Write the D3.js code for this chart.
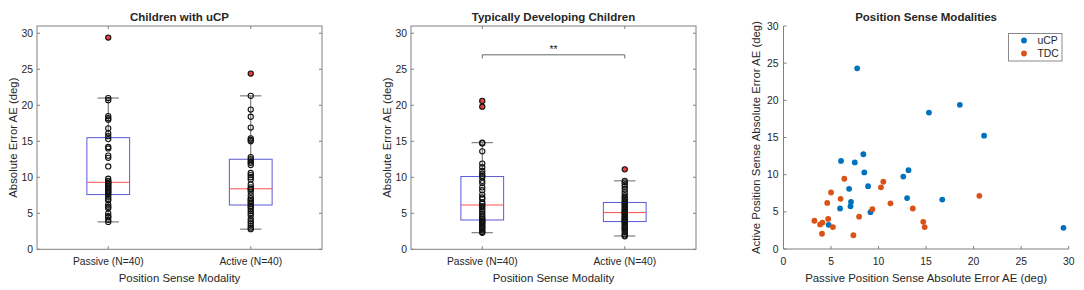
<!DOCTYPE html>
<html><head><meta charset="utf-8">
<script src="https://cdn.jsdelivr.net/npm/d3@7"></script>
<style>
html,body{margin:0;padding:0;background:#fff;}
svg text{font-family:"Liberation Sans",Arial,Helvetica,sans-serif;fill:#262626;}
</style></head>
<body><svg id="c" width="1084" height="290"></svg>
<script>
// ---- data ----
const categories = ["Passive (N=40)", "Active (N=40)"];
const boxYTicks = [0, 5, 10, 15, 20, 25, 30];
const scatterTicks = [0, 5, 10, 15, 20, 25, 30];

const ucpPassive = [29.4,21.0,20.7,18.5,18.2,18.0,16.8,16.1,15.7,15.3,14.2,14.0,13.0,12.7,11.5,9.8,9.5,9.4,9.2,9.1,9.0,8.8,8.6,8.5,8.3,8.1,8.0,7.8,7.6,7.3,7.0,6.8,6.2,5.9,5.7,5.0,4.6,4.5,4.1,3.8];
const ucpActive = [24.4,21.3,19.4,18.4,16.9,15.4,15.2,15.0,12.8,12.5,12.2,12.0,11.7,10.6,10.3,10.0,9.7,9.0,8.6,8.4,8.3,8.0,7.5,7.1,6.9,6.7,6.5,6.3,6.0,5.9,5.6,5.3,5.0,4.7,4.2,3.9,3.6,3.3,3.0,2.8];
const tdPassive = [20.6,19.8,14.8,14.7,13.6,11.9,11.4,10.9,10.5,10.2,10.0,9.5,9.2,8.6,8.2,7.6,7.2,7.0,6.5,6.3,6.0,5.8,5.5,5.2,4.9,4.6,4.4,4.2,4.0,3.9,3.8,3.6,3.5,3.3,3.1,3.0,2.8,2.6,2.4,2.3];
const tdActive = [11.1,9.5,9.3,9.0,8.7,8.3,7.9,7.5,7.2,7.0,6.7,6.5,6.3,6.1,5.9,5.7,5.5,5.3,5.2,5.1,5.0,4.9,4.7,4.5,4.4,4.2,4.1,4.0,3.9,3.8,3.6,3.4,3.2,3.0,2.9,2.7,2.4,2.1,1.9,1.8];

// box statistics: [lowWhisker, q1, median, q3, highWhisker]
const ucpPassiveStats = [3.8, 7.6, 9.3, 15.5, 21.0];
const ucpActiveStats  = [2.8, 6.15, 8.4, 12.5, 21.3];
const tdPassiveStats  = [2.3, 4.07, 6.15, 10.1, 14.8];
const tdActiveStats   = [1.85, 3.85, 5.1, 6.5, 9.5];
const ucpPassiveOutliers = [29.4];
const ucpActiveOutliers  = [24.4];
const tdPassiveOutliers  = [20.6, 19.8];
const tdActiveOutliers   = [11.1];

// scatter: passive (x) vs active (y)
const ucpScatterX = [7.75,15.3,18.55,21.1,6.05,7.5,8.4,8.5,13.15,12.6,8.9,6.9,7.1,7.05,5.95,13.0,16.7,9.15,4.75,29.45];
const ucpScatterY = [24.3,18.35,19.4,15.25,11.85,11.65,12.75,10.3,10.6,9.75,8.45,8.1,6.35,5.75,5.45,6.85,6.65,4.95,3.25,2.85];
const tdcScatterX = [6.4,10.5,10.25,5.0,6.0,4.6,11.25,20.6,13.6,9.35,7.95,3.25,4.7,3.85,4.1,5.2,14.7,14.85,4.05,7.35];
const tdcScatterY = [9.45,9.05,8.3,7.6,6.75,6.2,6.15,7.15,5.45,5.35,4.35,3.8,4.05,3.3,3.55,2.95,3.65,2.95,2.05,1.85];

const seriesNames = ["uCP", "TDC"];
const seriesColors = ["#0072BD", "#D95319"];

// ---- drawing ----
const svg = d3.select("#c");
const axisCol = "#808080";

function boxPanel(o) {
  const x = d3.scaleLinear().domain([0.5, 2.5]).range([o.left, o.right]);
  const y = d3.scaleLinear().domain([0, 31]).range([o.bottom, o.top]);
  const g = svg.append("g");
  g.append("rect").attr("x", o.left).attr("y", o.top).attr("width", o.right - o.left)
    .attr("height", o.bottom - o.top).attr("fill", "none").attr("stroke", axisCol).attr("stroke-width", 1);
  boxYTicks.forEach(t => {
    g.append("line").attr("x1", o.left).attr("x2", o.left + 3).attr("y1", y(t)).attr("y2", y(t)).attr("stroke", axisCol);
    g.append("line").attr("x1", o.right).attr("x2", o.right - 3).attr("y1", y(t)).attr("y2", y(t)).attr("stroke", axisCol);
    g.append("text").attr("x", o.left - 4).attr("y", y(t)).attr("dy", "0.35em").attr("text-anchor", "end")
      .style("font-size", "10.4px").text(t);
  });
  categories.forEach((c, i) => {
    const cx = x(i + 1);
    g.append("line").attr("x1", cx).attr("x2", cx).attr("y1", o.bottom).attr("y2", o.bottom - 3).attr("stroke", axisCol);
    g.append("line").attr("x1", cx).attr("x2", cx).attr("y1", o.top).attr("y2", o.top + 3).attr("stroke", axisCol);
    g.append("text").attr("x", cx).attr("y", 265).attr("text-anchor", "middle").style("font-size", "10.3px").text(c);
  });
  g.append("text").attr("x", (o.left + o.right) / 2).attr("y", 281.5).attr("text-anchor", "middle")
    .style("font-size", "11.4px").text("Position Sense Modality");
  g.append("text").attr("transform", `translate(${o.left - 20},${(o.top + o.bottom) / 2}) rotate(-90)`)
    .attr("text-anchor", "middle").style("font-size", "11.4px").text("Absolute Error AE (deg)");
  g.append("text").attr("x", (o.left + o.right) / 2).attr("y", 21).attr("text-anchor", "middle")
    .style("font-size", "11.5px").style("font-weight", "bold").text(o.title);

  const bw = 0.3 * (x(2) - x(1));
  o.groups.forEach((grp, i) => {
    const cx = x(i + 1);
    const s = grp.stats;
    g.append("line").attr("x1", cx).attr("x2", cx).attr("y1", y(s[3])).attr("y2", y(s[4])).attr("stroke", "#666");
    g.append("line").attr("x1", cx).attr("x2", cx).attr("y1", y(s[1])).attr("y2", y(s[0])).attr("stroke", "#666");
    [s[0], s[4]].forEach(v => g.append("line").attr("x1", cx - bw / 4).attr("x2", cx + bw / 4)
      .attr("y1", y(v)).attr("y2", y(v)).attr("stroke", "#666"));
    g.append("rect").attr("x", cx - bw / 2).attr("y", y(s[3])).attr("width", bw).attr("height", y(s[1]) - y(s[3]))
      .attr("fill", "none").attr("stroke", "#5a5ad6").attr("stroke-width", 1);
    g.append("line").attr("x1", cx - bw / 2).attr("x2", cx + bw / 2).attr("y1", y(s[2])).attr("y2", y(s[2]))
      .attr("stroke", "#ff5050").attr("stroke-width", 1);
    g.selectAll(null).data(grp.outliers).enter().append("circle")
      .attr("cx", cx).attr("cy", d => y(d)).attr("r", 2.6).attr("fill", "#ee3b3b");
    g.selectAll(null).data(grp.values).enter().append("circle")
      .attr("cx", cx).attr("cy", d => y(d)).attr("r", 2.6).attr("fill", "none")
      .attr("stroke", "#111").attr("stroke-width", 1.1);
  });
  return { g, x, y };
}

boxPanel({ left: 37, right: 322, top: 26, bottom: 249.3, title: "Children with uCP",
  groups: [{ values: ucpPassive, stats: ucpPassiveStats, outliers: ucpPassiveOutliers },
           { values: ucpActive, stats: ucpActiveStats, outliers: ucpActiveOutliers }] });

const p2 = boxPanel({ left: 411, right: 696, top: 26, bottom: 249.3, title: "Typically Developing Children",
  groups: [{ values: tdPassive, stats: tdPassiveStats, outliers: tdPassiveOutliers },
           { values: tdActive, stats: tdActiveStats, outliers: tdActiveOutliers }] });
const sigLevel = 27, sigDrop = 0.5;
p2.g.append("path").attr("d", `M${p2.x(1)},${p2.y(sigLevel - sigDrop)}V${p2.y(sigLevel)}H${p2.x(2)}V${p2.y(sigLevel - sigDrop)}`)
  .attr("fill", "none").attr("stroke", "#666").attr("stroke-width", 1);
p2.g.append("text").attr("x", (p2.x(1) + p2.x(2)) / 2).attr("y", p2.y(sigLevel) - 1.5).attr("text-anchor", "middle")
  .style("font-size", "10.5px").text("**");

(function () {
  const o = { left: 783.5, right: 1068.7, top: 26, bottom: 249 };
  const x = d3.scaleLinear().domain([0, 30]).range([o.left, o.right]);
  const y = d3.scaleLinear().domain([0, 30]).range([o.bottom, o.top]);
  const g = svg.append("g");
  g.append("line").attr("x1", o.left).attr("x2", o.left).attr("y1", o.top).attr("y2", o.bottom).attr("stroke", axisCol);
  g.append("line").attr("x1", o.left).attr("x2", o.right).attr("y1", o.bottom).attr("y2", o.bottom).attr("stroke", axisCol);
  scatterTicks.forEach(t => {
    g.append("line").attr("x1", o.left).attr("x2", o.left + 3).attr("y1", y(t)).attr("y2", y(t)).attr("stroke", axisCol);
    g.append("text").attr("x", o.left - 5).attr("y", y(t)).attr("dy", "0.35em").attr("text-anchor", "end")
      .style("font-size", "10.4px").text(t);
    g.append("line").attr("x1", x(t)).attr("x2", x(t)).attr("y1", o.bottom).attr("y2", o.bottom - 3).attr("stroke", axisCol);
    g.append("text").attr("x", x(t)).attr("y", 265).attr("text-anchor", "middle").style("font-size", "10.4px").text(t);
  });
  g.append("text").attr("x", (o.left + o.right) / 2).attr("y", 281.5).attr("text-anchor", "middle")
    .style("font-size", "11.4px").text("Passive Position Sense Absolute Error AE (deg)");
  g.append("text").attr("transform", `translate(${o.left - 24},${(o.top + o.bottom) / 2}) rotate(-90)`)
    .attr("text-anchor", "middle").style("font-size", "11.4px").text("Active Position Sense Absolute Error AE (deg)");
  g.append("text").attr("x", (o.left + o.right) / 2).attr("y", 21).attr("text-anchor", "middle")
    .style("font-size", "11.5px").style("font-weight", "bold").text("Position Sense Modalities");

  const sets = [[ucpScatterX, ucpScatterY], [tdcScatterX, tdcScatterY]];
  sets.forEach((s, k) => {
    g.selectAll(null).data(s[0]).enter().append("circle")
      .attr("cx", d => x(d)).attr("cy", (d, i) => y(s[1][i])).attr("r", 2.9).attr("fill", seriesColors[k]);
  });
  const lg = g.append("g");
  lg.append("rect").attr("x", 1008.5).attr("y", 33.5).attr("width", 53.5).attr("height", 27.5)
    .attr("fill", "#fff").attr("stroke", "#8a8a8a");
  seriesNames.forEach((n, k) => {
    const yy = 40.5 + k * 13;
    lg.append("circle").attr("cx", 1024).attr("cy", yy).attr("r", 2.9).attr("fill", seriesColors[k]);
    lg.append("text").attr("x", 1037.5).attr("y", yy).attr("dy", "0.35em").style("font-size", "10.4px").text(n);
  });
})();
</script></body></html>
